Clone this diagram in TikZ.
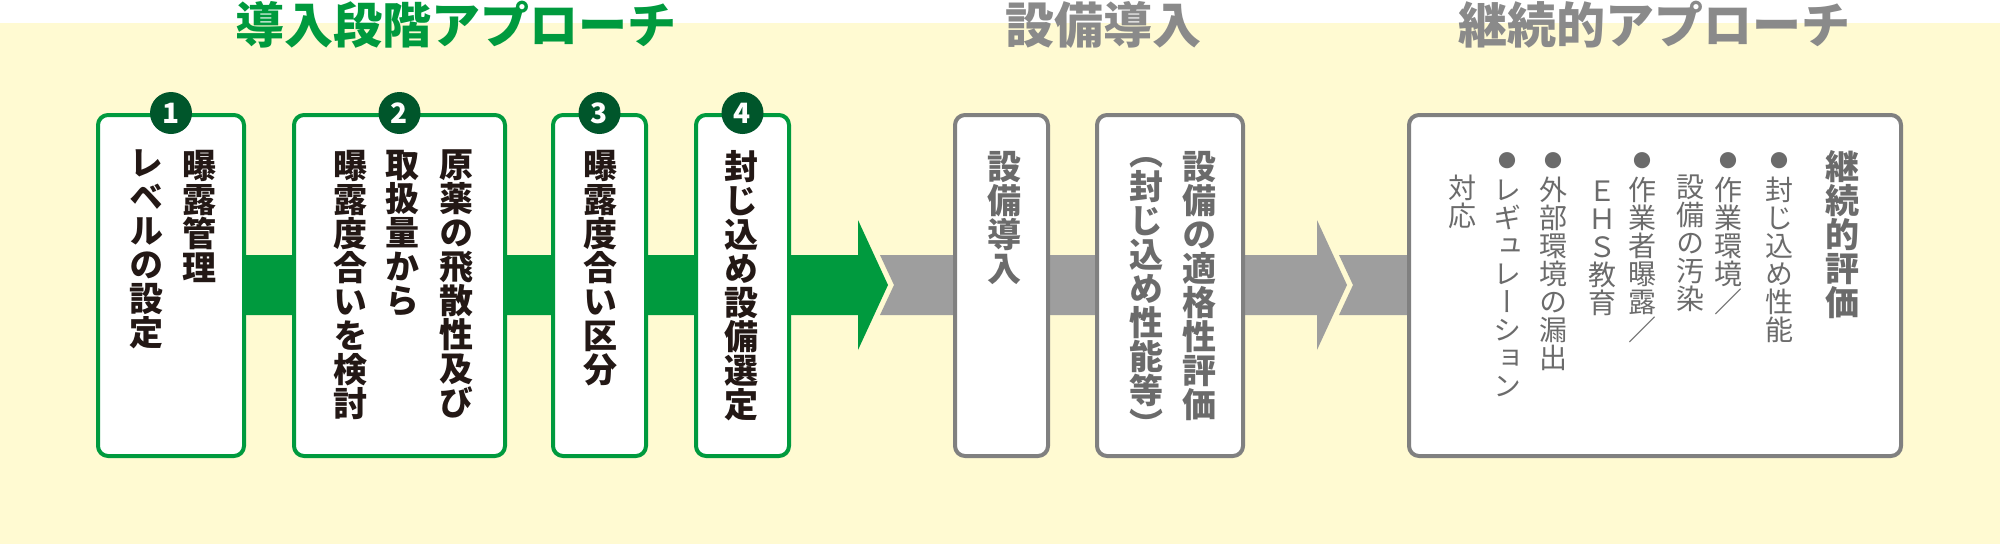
\documentclass[tikz,border=0pt]{standalone}
\usepackage{fontspec}
\newfontfamily\jpfont{Noto Sans CJK JP}
\newfontfamily\tatefont[RawFeature=+vert]{Noto Sans CJK JP}
\definecolor{bgyellow}{HTML}{FFFAD2}
\definecolor{stepgreen}{HTML}{009A3E}
\definecolor{darkgreen}{HTML}{00562B}
\definecolor{bandgray}{HTML}{9E9E9E}
\definecolor{framegray}{HTML}{808080}
\definecolor{textgray}{HTML}{6B6B6B}
\definecolor{titlegray}{HTML}{8A8A8A}
\definecolor{inkblack}{HTML}{231815}
\setlength{\lineskiplimit}{-50pt}
\newcommand\dotmark{{\fontsize{18pt}{18pt}\selectfont ●}}
\tikzset{
  greenbox/.style={draw=stepgreen, line width=4pt, fill=white, rounded corners=10pt, inner sep=0pt, minimum height=341pt},
  graybox/.style={greenbox, draw=framegray},
  numcircle/.style={circle, fill=darkgreen, minimum size=42pt, inner sep=0pt, text=white, font=\jpfont\bfseries\fontsize{28pt}{28pt}\selectfont},
  tate/.style={anchor=north, inner sep=0pt, align=center, text=inkblack,
    font=\tatefont\bfseries\fontsize{34pt}{34pt}\selectfont},
  tatesmall/.style={tate, text=textgray, font=\tatefont\fontsize{28pt}{28pt}\selectfont},
  heading/.style={inner sep=0pt, font=\jpfont\bfseries\fontsize{49pt}{49pt}\selectfont}
}
\begin{document}
\begin{tikzpicture}[x=1pt, y=-1pt, line join=round]
  \useasboundingbox (0,0) rectangle (2000,544);
  % background
  \fill[bgyellow] (0,23) rectangle (2000,544);

  % headings
  \node[heading, text=stepgreen] (head1) at (456,25) {導入段階アプローチ};
  \node[heading, text=titlegray] (head2) at (1103,25) {設備導入};
  \node[heading, text=titlegray] (head3) at (1654,25) {継続的アプローチ};

  % bands behind the boxes
  \fill[stepgreen] (171,255) -- (858,255) -- (858,220) -- (888,285) -- (858,350) -- (858,315) -- (171,315) -- cycle;
  \fill[bandgray] (880,255) -- (1317,255) -- (1317,220) -- (1347,285) -- (1317,350) -- (1317,315) -- (880,315) -- (894,285) -- cycle;
  \fill[bandgray] (1339,255) -- (1500,255) -- (1500,315) -- (1339,315) -- (1353,285) -- cycle;

  % boxes
  \node[greenbox, minimum width=146pt] (b1) at (171,285.5) {};
  \node[greenbox, minimum width=211pt] (b2) at (399.5,285.5) {};
  \node[greenbox, minimum width=93pt] (b3) at (599.5,285.5) {};
  \node[greenbox, minimum width=93pt] (b4) at (742.5,285.5) {};
  \node[graybox, minimum width=93pt] (b5) at (1001.5,285.5) {};
  \node[graybox, minimum width=146pt] (b6) at (1170,285.5) {};
  \node[graybox, minimum width=492pt] (b7) at (1655,285.5) {};

  % step numbers
  \node[numcircle] (n1) at (b1.north) {1};
  \node[numcircle] (n2) at (b2.north) {2};
  \node[numcircle] (n3) at (b3.north) {3};
  \node[numcircle] (n4) at (b4.north) {4};

  % vertical texts, one column per node
  \node[tate] (t1a) at (199,150) {曝\\露\\管\\理};
  \node[tate] (t1b) at (146,150) {レ\\ベ\\ル\\の\\設\\定};
  \node[tate] (t2a) at (456,150) {原\\薬\\の\\飛\\散\\性\\及\\び};
  \node[tate] (t2b) at (402,150) {取\\扱\\量\\か\\ら};
  \node[tate] (t2c) at (350,150) {曝\\露\\度\\合\\い\\を\\検\\討};
  \node[tate] (t3a) at (600,150) {曝\\露\\度\\合\\い\\区\\分};
  \node[tate] (t4a) at (741,150) {封\\じ\\込\\め\\設\\備\\選\\定};
  \node[tate, text=textgray] (t5a) at (1004,151) {設\\備\\導\\入};
  \node[tate, text=textgray] (t6a) at (1199,151) {設\\備\\の\\適\\格\\性\\評\\価};
  \node[tate, text=textgray] (t6b) at (1146,157) {（\\封\\じ\\込\\め\\性\\能\\等\\）};
  \node[tate, text=textgray] (t7a) at (1842,150) {継\\続\\的\\評\\価};
  \node[tatesmall] (t7b) at (1779,152) {\dotmark\\[5pt]封\\じ\\込\\め\\性\\能};
  \node[tatesmall] (t7c) at (1728,152) {\dotmark\\[5pt]作\\業\\環\\境\\／};
  \node[tatesmall] (t7d) at (1690,175) {設\\備\\の\\汚\\染};
  \node[tatesmall] (t7e) at (1642,152) {\dotmark\\[5pt]作\\業\\者\\曝\\露\\／};
  \node[tatesmall] (t7f) at (1602,181) {Ｅ\\Ｈ\\Ｓ\\教\\育};
  \node[tatesmall] (t7g) at (1553,152) {\dotmark\\[5pt]外\\部\\環\\境\\の\\漏\\出};
  \node[tatesmall] (t7h) at (1507,152) {\dotmark\\[5pt]レ\\ギ\\ュ\\レ\\ー\\シ\\ョ\\ン};
  \node[tatesmall] (t7i) at (1462,175) {対\\応};
\end{tikzpicture}
\end{document}
